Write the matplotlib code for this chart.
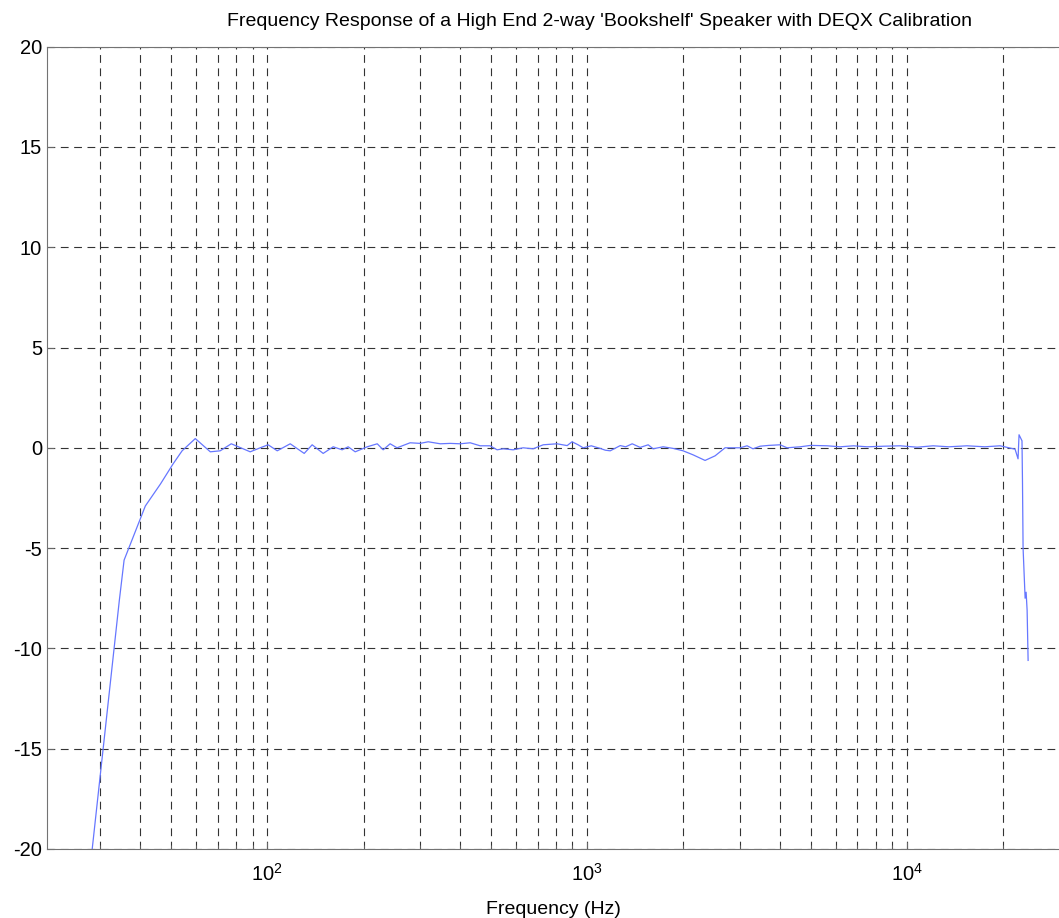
import matplotlib
matplotlib.use('Agg')
import matplotlib.pyplot as plt
from matplotlib.ticker import LogLocator, NullFormatter
import numpy as np

plt.rcParams['font.family'] = ['Liberation Sans', 'DejaVu Sans']
plt.rcParams['axes.unicode_minus'] = False

freq_hz = [27.5, 34.5, 35.7, 41.6, 46.4, 50.8, 54.2, 59.6, 66.4, 71.3, 77.2,
           88.5, 95.1, 100.7, 107.5, 118, 130.5, 138.2, 149.6, 160.8, 171.5,
           179.1, 188.4, 205.4, 220.8, 230.4, 242.2, 254.6, 279.7, 300.7,
           318.6, 347.5, 373.4, 401.3, 431, 463, 497.5, 523, 546.5, 587, 631,
           678, 729, 805, 866, 897, 937, 972, 1030, 1099, 1140, 1181, 1269,
           1320, 1383, 1465, 1552, 1608, 1728, 1857, 1995, 2143, 2337, 2512,
           2699, 3006, 3162, 3300, 3474, 3700, 4010, 4217, 4632, 5000, 5623,
           6180, 6800, 7499, 8500, 9513, 10750, 12060, 13500, 15400, 17500,
           19540, 21760, 22230, 22390, 22870, 22950, 23050, 23390, 23560,
           23730, 23900]
level_db = [-22.0, -7.6, -5.6, -2.9, -1.8, -0.8, -0.15, 0.46, -0.2, -0.15, 0.2,
            -0.2, 0.0, 0.15, -0.15, 0.2, -0.28, 0.15, -0.28, 0.05, -0.1,
            0.05, -0.2, 0.05, 0.2, -0.1, 0.2, 0.0, 0.25, 0.22,
            0.3, 0.2, 0.22, 0.2, 0.25, 0.1, 0.1, -0.1, -0.05, -0.1, 0.0,
            -0.05, 0.15, 0.2, 0.11, 0.3, 0.15, 0.0, 0.1, -0.03, -0.12, -0.15, 0.11,
            0.05, 0.2, 0.02, 0.15, -0.05, 0.05, -0.03, -0.15, -0.35, -0.63, -0.4,
            0.0, 0.0, 0.1, -0.05, 0.08, 0.12, 0.15, 0.0, 0.05, 0.12, 0.1,
            0.05, 0.1, 0.05, 0.08, 0.1, 0.03, 0.1, 0.05, 0.1, 0.05,
            0.1, -0.07, -0.55, 0.65, 0.35, -1.65, -5.0, -7.5, -7.2,
            -8.1, -10.6]

y_ticks = [-20, -15, -10, -5, 0, 5, 10, 15, 20]

fig = plt.figure(figsize=(10.59, 9.18), dpi=100)
ax = fig.add_axes([0.0444, 0.0752, 0.9556, 0.874])

ax.semilogx(freq_hz, level_db, color='#6677ff', linewidth=0.9)

ax.set_xlim(20.5, 29850)
ax.set_ylim(-20, 20)
ax.set_yticks(y_ticks)
ax.xaxis.set_major_locator(LogLocator(base=10))
ax.xaxis.set_minor_locator(LogLocator(base=10, subs=np.arange(2, 10)))
ax.xaxis.set_minor_formatter(NullFormatter())

ax.grid(True, which='both', axis='x', color='0.2', linestyle=(0, (7, 5)), linewidth=0.8)
ax.grid(True, which='major', axis='y', color='0.2', linestyle=(0, (7, 5)), linewidth=0.8)

ax.tick_params(which='both', direction='in', labelsize=14.5, color='0.4')
ax.tick_params(axis='x', which='major', pad=10)
ax.tick_params(which='major', length=5)
ax.tick_params(which='minor', length=3)
ax.spines['right'].set_visible(False)
for s in ['left', 'bottom', 'top']:
    ax.spines[s].set_color('0.45')

ax.set_xlabel('Frequency (Hz)', fontsize=14, labelpad=12)
ax.set_title("Frequency Response of a High End 2-way 'Bookshelf' Speaker with DEQX Calibration",
             fontsize=14, pad=15, x=0.5455)

fig.savefig('out.png', dpi=100)
